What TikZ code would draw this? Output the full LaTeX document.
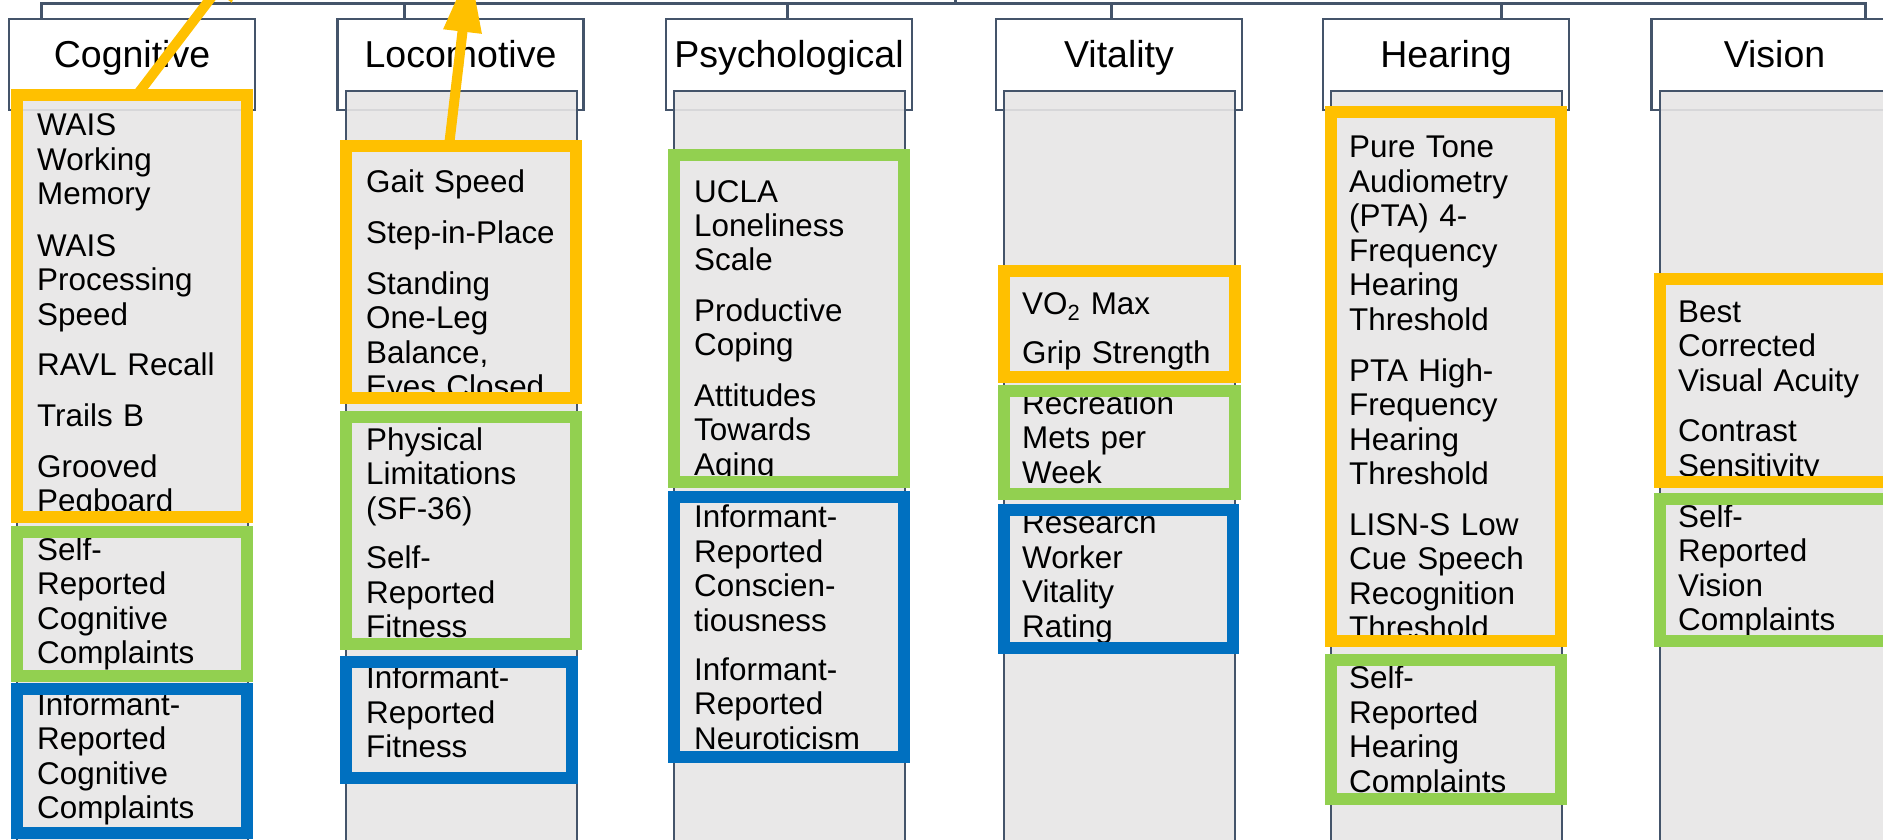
\documentclass[tikz,border=0pt]{standalone}
\usepackage{fontspec}
\setmainfont{Liberation Sans}
\usetikzlibrary{arrows.meta}
\definecolor{cOrange}{HTML}{FFC000}
\definecolor{cGreen}{HTML}{92D050}
\definecolor{cBlue}{HTML}{0070C0}
\definecolor{cGray}{HTML}{E7E6E6}
\definecolor{cSlate}{HTML}{44546A}
\newcommand\mybox[6]{\node[#2, minimum width={#5-#3-12}, minimum height={#6-#4-12}] (#1) at ({(#3+#5)/2},{(#4+#6)/2}) {};}
\begin{document}
\begin{tikzpicture}[x=1pt,y=-1pt,
  conn/.style={draw=cSlate, line width=3pt},
  hdr/.style={draw=cSlate, line width=2.5pt, fill=white, minimum width=246pt, minimum height=91pt, inner sep=0pt, outer sep=0pt},
  hdrtext/.style={font=\fontsize{37.5}{42}\selectfont, anchor=base, inner sep=0pt},
  colbg/.style={draw=cSlate, line width=2pt, fill=cGray, fill opacity=0.9, minimum width=231pt, minimum height=780pt, inner sep=0pt, outer sep=0pt},
  item/.style={font=\fontsize{31.4}{34.5}\selectfont, text width=330pt, align=left, inner sep=0pt, anchor=base west},
  obox/.style={draw=cOrange, line width=12pt, inner sep=0pt, outer sep=0pt},
  gbox/.style={draw=cGreen, line width=12pt, inner sep=0pt, outer sep=0pt},
  bbox/.style={draw=cBlue, line width=12pt, inner sep=0pt, outer sep=0pt},
  oarrow/.style={draw=cOrange, line width=10pt, -{Triangle[length=64pt,width=36pt]}}
]
\useasboundingbox (0,0) rectangle (1883,840);
\clip (0,0) rectangle (1883,840);

% headers
\node[hdr] (hCog) at (132,64.5) {};
\node[hdr] (hLoc) at (460.5,64.5) {};
\node[hdr] (hPsy) at (789,64.5) {};
\node[hdr] (hVit) at (1119,64.5) {};
\node[hdr] (hHea) at (1446,64.5) {};
\node[hdr] (hVis) at (1774.5,64.5) {};
\node[hdrtext] (tCog) at (132,68) {Cognitive};
\node[hdrtext] (tLoc) at (460.5,68) {Locomotive};
\node[hdrtext] (tPsy) at (789,68) {Psychological};
\node[hdrtext] (tVit) at (1119,68) {Vitality};
\node[hdrtext] (tHea) at (1446,68) {Hearing};
\node[hdrtext] (tVis) at (1774.5,68) {Vision};

% connectors
\coordinate (bus) at (955,4);
\coordinate (root) at (955,-10);
\coordinate (kCog) at ([xshift=-91pt]hCog.north);
\coordinate (kLoc) at ([xshift=-56.5pt]hLoc.north);
\coordinate (kPsy) at ([xshift=-2pt]hPsy.north);
\coordinate (kVit) at ([xshift=-8pt]hVit.north);
\coordinate (kHea) at ([xshift=55pt]hHea.north);
\coordinate (kVis) at ([xshift=90.5pt]hVis.north);
\draw[conn] (kCog) |- (bus) -| (kVis);
\foreach \k in {kLoc,kPsy,kVit,kHea} \draw[conn] (\k) -- (\k |- bus);
\draw[conn] (root) -- (bus);

% grey columns
\node[colbg] (gCog) at (132.5,481) {};
\node[colbg] (gLoc) at (461,481) {};
\node[colbg] (gPsy) at (789.5,481) {};
\node[colbg] (gVit) at (1119.5,481) {};
\node[colbg] (gHea) at (1446.5,481) {};
\node[colbg] (gVis) at (1775,481) {};

% Cognitive items
\node[item] (c1) at (37,136) {WAIS\\Working\\Memory};
\node[item] (c2) at (37,256) {WAIS\\Processing\\Speed};
\node[item] (c3) at (37,375.5) {RAVL Recall};
\node[item] (c4) at (37,426) {Trails B};
\node[item] (c5) at (37,477) {Grooved\\Pegboard};
\node[item] (c6) at (37,560) {Self-\\Reported\\Cognitive\\Complaints};
\node[item] (c7) at (37,715) {Informant-\\Reported\\Cognitive\\Complaints};

% Locomotive items
\node[item] (l1) at (366,193) {Gait Speed};
\node[item] (l2) at (366,243.5) {Step-in-Place};
\node[item] (l3) at (366,294) {Standing\\One-Leg\\Balance,\\Eyes Closed};
\node[item] (l4) at (366,450) {Physical\\Limitations\\(SF-36)};
\node[item] (l5) at (366,568.5) {Self-\\Reported\\Fitness};
\node[item] (l6) at (366,688.5) {Informant-\\Reported\\Fitness};

% Psychological items
\node[item] (p1) at (694,202) {UCLA\\Loneliness\\Scale};
\node[item] (p2) at (694,321) {Productive\\Coping};
\node[item] (p3) at (694,406) {Attitudes\\Towards\\Aging};
\node[item] (p4) at (694,527.5) {Informant-\\Reported\\Conscien-\\tiousness};
\node[item] (p5) at (694,680) {Informant-\\Reported\\Neuroticism};

% Vitality items
\node[item] (v1) at (1022,314) {VO\textsubscript{2} Max};
\node[item] (v2) at (1022,363) {Grip Strength};
\node[item] (v3) at (1022,414) {Recreation\\Mets per\\Week};
\node[item] (v4) at (1022,533.5) {Research\\Worker\\Vitality\\Rating};

% Hearing items
\node[item] (h1) at (1349,158) {Pure Tone\\Audiometry\\(PTA) 4-\\Frequency\\Hearing\\Threshold};
\node[item] (h2) at (1349,381) {PTA High-\\Frequency\\Hearing\\Threshold};
\node[item] (h3) at (1349,535) {LISN-S Low\\Cue Speech\\Recognition\\Threshold};
\node[item] (h4) at (1349,688.5) {Self-\\Reported\\Hearing\\Complaints};

% Vision items
\node[item] (s1) at (1678,322) {Best\\Corrected\\Visual Acuity};
\node[item] (s2) at (1678,441.5) {Contrast\\Sensitivity};
\node[item] (s3) at (1678,527) {Self-\\Reported\\Vision\\Complaints};

% coloured frames
\mybox{cogO}{obox}{11}{89}{253}{523}
\mybox{cogG}{gbox}{11}{526}{253}{682}
\mybox{cogB}{bbox}{11}{683}{253}{839}
\mybox{locO}{obox}{339.5}{140}{581.5}{404}
\mybox{locG}{gbox}{339.5}{411}{581.5}{650}
\mybox{locB}{bbox}{339.5}{656}{578}{784}
\mybox{psyG}{gbox}{668}{149}{910}{488}
\mybox{psyB}{bbox}{668}{491}{910}{763}
\mybox{vitO}{obox}{998}{265}{1241}{383}
\mybox{vitG}{gbox}{998}{385}{1241}{500}
\mybox{vitB}{bbox}{998}{504}{1239}{654}
\mybox{heaO}{obox}{1325}{106}{1567}{647}
\mybox{heaG}{gbox}{1325}{654}{1567}{805}
\mybox{visO}{obox}{1653.5}{273}{1895.5}{488}
\mybox{visG}{gbox}{1653.5}{493}{1895.5}{647}

% arrows
\coordinate (cogTip) at (255,-60);
\coordinate (locTip) at (470,-32);
\draw[oarrow] ([xshift=5pt]cogO.north) -- (cogTip);
\draw[oarrow] ([xshift=-11.5pt]locO.north) -- (locTip);
\end{tikzpicture}
\end{document}
